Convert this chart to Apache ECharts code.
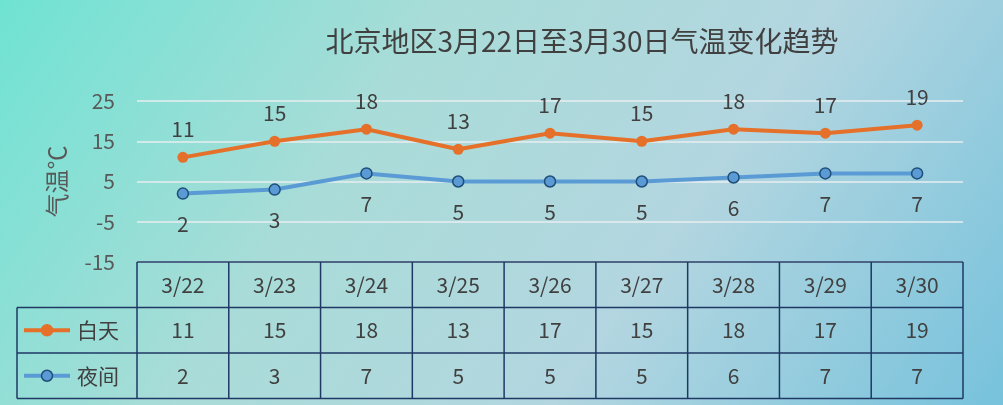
<!DOCTYPE html><html><head><meta charset="utf-8">
<script src="https://cdn.jsdelivr.net/npm/echarts@6/dist/echarts.min.js"></script>
<style>html,body{margin:0;padding:0}#c{width:1003px;height:405px;background:linear-gradient(125deg,#6fe3d3 0%,#a9dcd8 35%,#b3d6e0 65%,#77c2dc 100%)}</style>
</head><body><div id="c"></div><script>
const categories=['3/22','3/23','3/24','3/25','3/26','3/27','3/28','3/29','3/30'];
const dayTemp=[11,15,18,13,17,15,18,17,19];
const nightTemp=[2,3,7,5,5,5,6,7,7];
const seriesNames=['白天','夜间'];
const yTicks={min:-15,max:25,interval:10};
const font='"Noto Sans CJK SC",sans-serif';
const chart=echarts.init(document.getElementById('c'));
const orange='#e5702a',blue='#5b9bd5',navy='#1f3864',txt='#404040';
chart.setOption({
 title:{text:'北京地区3月22日至3月30日气温变化趋势',left:577,textAlign:'center',top:22,textStyle:{fontFamily:font,fontSize:28,fontWeight:'normal',color:txt}},
 grid:{left:137,right:40,top:101,bottom:143},
 xAxis:{type:'category',data:categories,axisLine:{show:false},axisTick:{show:false},axisLabel:{show:false}},
 yAxis:{type:'value',min:yTicks.min,max:yTicks.max,interval:yTicks.interval,name:'气温℃',nameLocation:'middle',nameGap:68,nameRotate:90,
  nameTextStyle:{fontFamily:font,fontSize:24,color:'#595959'},
  axisLabel:{fontFamily:font,fontSize:21,color:'#595959',margin:22},splitLine:{lineStyle:{color:'#e8eef0',width:1.5}}},
 series:[
  {name:seriesNames[0],type:'line',data:dayTemp,symbol:'circle',symbolSize:11,lineStyle:{color:orange,width:4},itemStyle:{color:orange},
   label:{show:true,position:'top',distance:12,fontFamily:font,fontSize:21,color:txt}},
  {name:seriesNames[1],type:'line',data:nightTemp,symbol:'circle',symbolSize:11,lineStyle:{color:blue,width:4},itemStyle:{color:blue,borderColor:'#1f4e79',borderWidth:1.5},
   label:{show:true,position:'bottom',distance:14,fontFamily:font,fontSize:21,color:txt}}
 ]
});
const x0=chart.convertToPixel({xAxisIndex:0},0),x1=chart.convertToPixel({xAxisIndex:0},1);
const w=x1-x0,tLeft=x0-w/2,tRight=tLeft+w*categories.length;
const tTop=chart.convertToPixel({yAxisIndex:0},yTicks.min);
const rh=45.5,tl=17,g=[];
const L=(a,b,c,d)=>g.push({type:'line',shape:{x1:a,y1:b,x2:c,y2:d},style:{stroke:navy,lineWidth:1.5}});
const T=(x,y,t,al)=>g.push({type:'text',x:x,y:y,style:{text:t,fontFamily:font,fontSize:21,fill:txt,align:al||'center',verticalAlign:'middle'}});
L(tLeft,tTop,tRight,tTop);L(tl,tTop+rh,tRight,tTop+rh);L(tl,tTop+2*rh,tRight,tTop+2*rh);L(tl,tTop+3*rh,tRight,tTop+3*rh);
L(tl,tTop+rh,tl,tTop+3*rh);
for(let i=0;i<=categories.length;i++)L(tLeft+i*w,tTop,tLeft+i*w,tTop+3*rh);
categories.forEach((c,i)=>{const cx=tLeft+w*(i+.5);T(cx,tTop+rh/2,c);T(cx,tTop+1.5*rh,String(dayTemp[i]));T(cx,tTop+2.5*rh,String(nightTemp[i]));});
[[orange,seriesNames[0]],[blue,seriesNames[1]]].forEach(([col,n],k)=>{const y=tTop+rh*(1.5+k);
 g.push({type:'line',shape:{x1:24,y1:y,x2:70,y2:y},style:{stroke:col,lineWidth:4}});
 g.push({type:'circle',shape:{cx:47,cy:y,r:5.5},style:{fill:col,stroke:k?'#1f4e79':col,lineWidth:1.5}});
 T(77,y,n,'left');});
chart.setOption({graphic:g});
</script></body></html>
